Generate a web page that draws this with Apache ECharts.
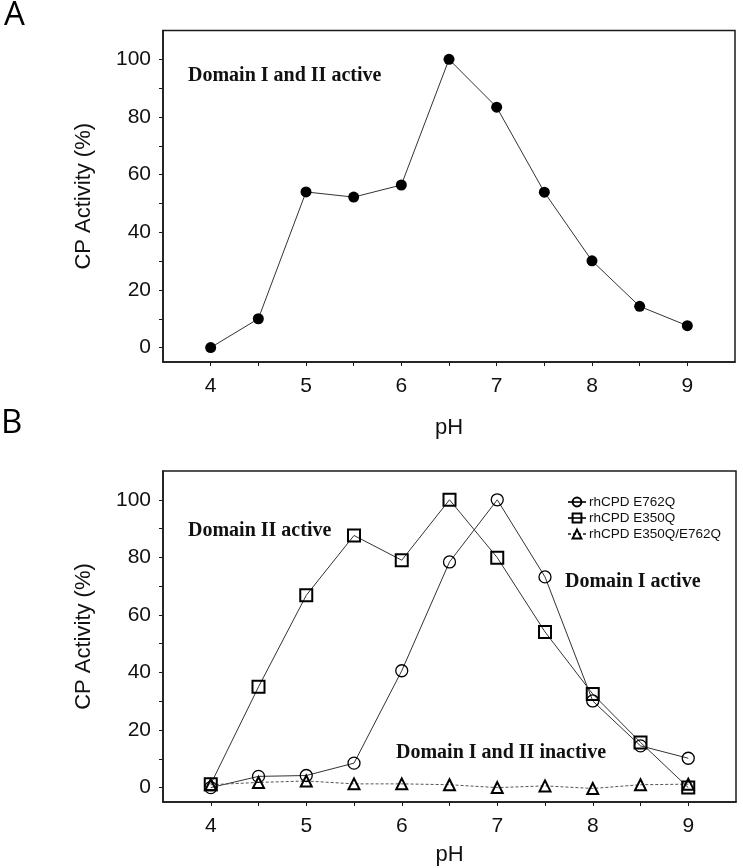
<!DOCTYPE html>
<html><head><meta charset="utf-8">
<script src="https://cdn.jsdelivr.net/npm/echarts@6/dist/echarts.min.js"></script>
<style>html,body{margin:0;padding:0;background:#fff}#c{width:743px;height:868px}</style>
</head><body><div id="c"></div>
<script>
// ---- data ----
const phValues = [4, 4.5, 5, 5.5, 6, 6.5, 7, 7.5, 8, 8.5, 9];
const activityA = [0, 10, 54, 52.2, 56.4, 100, 83.4, 53.9, 30.1, 14.3, 7.6];
const seriesNamesB = ['rhCPD E762Q', 'rhCPD E350Q', 'rhCPD E350Q/E762Q'];
const activityE762Q = [0, 3.9, 4.2, 8.5, 40.6, 78.4, 100, 73.2, 30.1, 14.5, 10.2];
const activityE350Q = [1.2, 35, 66.8, 87.6, 79, 100, 79.9, 54.1, 32.5, 15.7, 0];
const activityDouble = [1.0, 1.8, 2.3, 1.3, 1.3, 1.0, 0, 0.6, -0.3, 1.0, 1.2];
const xTickLabels = [4, 5, 6, 7, 8, 9];
const xTickMarks = [4, 4.5, 5, 5.5, 6, 6.5, 7, 7.5, 8, 8.5, 9];
const yTickLabels = [0, 20, 40, 60, 80, 100];
const yTickMarks = [0, 10, 20, 30, 40, 50, 60, 70, 80, 90, 100];
const xTitle = 'pH';
const yTitle = 'CP Activity (%)';
const annotationA = 'Domain I and II active';
const annotationsB = ['Domain II active', 'Domain I active', 'Domain I and II inactive'];

const pairs = (ys) => phValues.map((x, i) => [x, ys[i]]);

const SANS = '"Liberation Sans", Arial, sans-serif';
const SERIF = '"Liberation Serif", "Times New Roman", serif';
const AX = '#1a1a1a';

function xAxis(gridIndex, gap) {
  return {
    type: 'value', gridIndex, min: 3.5, max: 9.5,
    name: xTitle, nameLocation: 'middle', nameGap: gap,
    nameTextStyle: { fontFamily: SANS, fontSize: 22, color: '#111' },
    axisLine: { show: true, onZero: false, lineStyle: { color: AX, width: 1.5 } },
    axisTick: { show: true, length: 4, customValues: xTickMarks, lineStyle: { color: AX, width: 1 } },
    axisLabel: { customValues: xTickLabels, margin: 14, fontFamily: SANS, fontSize: 21, color: '#111' },
    splitLine: { show: false }
  };
}
function yAxis(gridIndex) {
  return {
    type: 'value', gridIndex, min: -5, max: 110,
    name: yTitle, nameLocation: 'middle', nameGap: 68, nameRotate: 90,
    nameTextStyle: { fontFamily: SANS, fontSize: 22, color: '#111' },
    axisLine: { show: true, onZero: false, lineStyle: { color: AX, width: 1.5 } },
    axisTick: { show: true, length: 4, customValues: yTickMarks, lineStyle: { color: AX, width: 1 } },
    axisLabel: { customValues: yTickLabels, margin: 12, fontFamily: SANS, fontSize: 21, color: '#111' },
    splitLine: { show: false }
  };
}

const hollow = (bw) => ({ color: 'rgba(255,255,255,0)', borderColor: '#000', borderWidth: bw });

const option = {
  animation: false,
  backgroundColor: '#fff',
  grid: [
    { left: 163, top: 30.5, width: 572, height: 331.5, show: true, borderColor: AX, borderWidth: 1.5, backgroundColor: 'transparent' },
    { left: 163, top: 471, width: 573, height: 331, show: true, borderColor: AX, borderWidth: 1.5, backgroundColor: 'transparent' }
  ],
  xAxis: [xAxis(0, 55), xAxis(1, 42)],
  yAxis: [yAxis(0), yAxis(1)],
  legend: {
    data: seriesNamesB, orient: 'vertical', left: 562, top: 490,
    itemWidth: 18, itemHeight: 11, itemGap: 2,
    textStyle: { fontFamily: SANS, fontSize: 13.5, color: '#111', padding: [0, 0, 0, -2] }
  },
  series: [
    {
      type: 'line', xAxisIndex: 0, yAxisIndex: 0, data: pairs(activityA),
      symbol: 'circle', symbolSize: 11,
      itemStyle: { color: '#000' }, lineStyle: { color: '#333', width: 1 }
    },
    {
      name: seriesNamesB[0], type: 'line', xAxisIndex: 1, yAxisIndex: 1, data: pairs(activityE762Q),
      symbol: 'circle', symbolSize: 12, itemStyle: hollow(1.3), lineStyle: { color: '#333', width: 1 }
    },
    {
      name: seriesNamesB[1], type: 'line', xAxisIndex: 1, yAxisIndex: 1, data: pairs(activityE350Q),
      symbol: 'rect', symbolSize: 12, itemStyle: hollow(2), lineStyle: { color: '#333', width: 1 }
    },
    {
      name: seriesNamesB[2], type: 'line', xAxisIndex: 1, yAxisIndex: 1, data: pairs(activityDouble),
      symbol: 'triangle', symbolSize: 11, itemStyle: hollow(2),
      lineStyle: { color: '#555', width: 1, type: [3, 2] }
    }
  ],
  graphic: [
    { type: 'text', x: 4, y: 16, style: { text: 'A', font: '33px "Open Sans", sans-serif', fill: '#000', textVerticalAlign: 'middle' } },
    { type: 'text', x: 1, y: 424, style: { text: 'B', font: '33px "Open Sans", sans-serif', fill: '#000', textVerticalAlign: 'middle' } },
    { type: 'text', x: 188, y: 76, style: { text: annotationA, font: 'bold 20px ' + SERIF, fill: '#111', textVerticalAlign: 'middle' } },
    { type: 'text', x: 188, y: 531, style: { text: annotationsB[0], font: 'bold 20px ' + SERIF, fill: '#111', textVerticalAlign: 'middle' } },
    { type: 'text', x: 565, y: 582, style: { text: annotationsB[1], font: 'bold 20px ' + SERIF, fill: '#111', textVerticalAlign: 'middle' } },
    { type: 'text', x: 396, y: 753, style: { text: annotationsB[2], font: 'bold 20px ' + SERIF, fill: '#111', textVerticalAlign: 'middle' } }
  ]
};
const chart = echarts.init(document.getElementById('c'), null, { renderer: 'canvas' });
chart.setOption(option);
</script>
</body></html>
